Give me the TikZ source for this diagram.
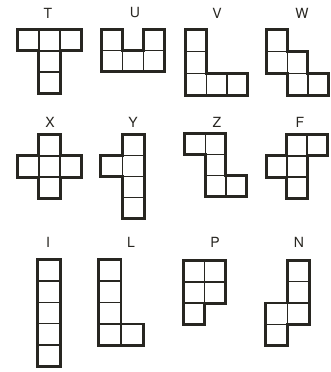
\documentclass[tikz,border=0pt]{standalone}
\usepackage{fontspec}
\setmainfont{TeX Gyre Heros}
\definecolor{ink}{RGB}{40,38,33}
\tikzset{
  cellline/.style={draw=ink, line width=1.4pt},
  outline/.style={draw=ink, line width=2.9pt, line join=miter},
  lbl/.style={text=ink, font=\fontsize{14}{14}\selectfont, inner sep=0pt, anchor=center}
}
\newcommand{\cellsq}[2]{\draw[cellline] (#1,#2) rectangle ++(1,1);}
\begin{document}
\begin{tikzpicture}[x=1pt,y=-1pt]
\useasboundingbox (0,0) rectangle (331,372);
\fill[white] (0,0) rectangle (331,372);
% labels
\node[lbl] (lT) at (48,13) {T};
\node[lbl] (lU) at (135,13) {U};
\node[lbl] (lV) at (217,13) {V};
\node[lbl] (lW) at (302,13) {W};
\node[lbl] (lX) at (50,122) {X};
\node[lbl] (lY) at (133,122) {Y};
\node[lbl] (lZ) at (217,122) {Z};
\node[lbl] (lF) at (300,122) {F};
\node[lbl] (lI) at (48,242) {I};
\node[lbl] (lL) at (131,242) {L};
\node[lbl] (lP) at (215,242) {P};
\node[lbl] (lN) at (299,242) {N};
% T
\begin{scope}[shift={(17.5pt,-29.5pt)}, x=21.3pt, y=-21.3pt]
\cellsq{0}{0}\cellsq{1}{0}\cellsq{2}{0}\cellsq{1}{1}\cellsq{1}{2}
\draw[outline] (0,0)--(3,0)--(3,1)--(2,1)--(2,3)--(1,3)--(1,1)--(0,1)--cycle;
\end{scope}
% U
\begin{scope}[shift={(101.5pt,-29.5pt)}, x=21pt, y=-21pt]
\cellsq{0}{0}\cellsq{2}{0}\cellsq{0}{1}\cellsq{1}{1}\cellsq{2}{1}
\draw[outline] (0,0)--(1,0)--(1,1)--(2,1)--(2,0)--(3,0)--(3,2)--(0,2)--cycle;
\end{scope}
% V
\begin{scope}[shift={(185.5pt,-29.5pt)}, x=20.7pt, y=-22pt]
\cellsq{0}{0}\cellsq{0}{1}\cellsq{0}{2}\cellsq{1}{2}\cellsq{2}{2}
\draw[outline] (0,0)--(1,0)--(1,2)--(3,2)--(3,3)--(0,3)--cycle;
\end{scope}
% W
\begin{scope}[shift={(266.5pt,-29.5pt)}, x=20.7pt, y=-22pt]
\cellsq{0}{0}\cellsq{0}{1}\cellsq{1}{1}\cellsq{1}{2}\cellsq{2}{2}
\draw[outline] (0,0)--(1,0)--(1,1)--(2,1)--(2,2)--(3,2)--(3,3)--(1,3)--(1,2)--(0,2)--cycle;
\end{scope}
% X
\begin{scope}[shift={(17.5pt,-134.5pt)}, x=21.3pt, y=-21.3pt]
\cellsq{1}{0}\cellsq{0}{1}\cellsq{1}{1}\cellsq{2}{1}\cellsq{1}{2}
\draw[outline] (1,0)--(2,0)--(2,1)--(3,1)--(3,2)--(2,2)--(2,3)--(1,3)--(1,2)--(0,2)--(0,1)--(1,1)--cycle;
\end{scope}
% Y
\begin{scope}[shift={(100.5pt,-134.5pt)}, x=22pt, y=-21pt]
\cellsq{1}{0}\cellsq{0}{1}\cellsq{1}{1}\cellsq{1}{2}\cellsq{1}{3}
\draw[outline] (1,0)--(2,0)--(2,4)--(1,4)--(1,2)--(0,2)--(0,1)--(1,1)--cycle;
\end{scope}
% Z
\begin{scope}[shift={(184.5pt,-133.5pt)}, x=20.7pt, y=-21pt]
\cellsq{0}{0}\cellsq{1}{0}\cellsq{1}{1}\cellsq{1}{2}\cellsq{2}{2}
\draw[outline] (0,0)--(2,0)--(2,2)--(3,2)--(3,3)--(1,3)--(1,1)--(0,1)--cycle;
\end{scope}
% F
\begin{scope}[shift={(266.5pt,-134.5pt)}, x=20.3pt, y=-21.3pt]
\cellsq{1}{0}\cellsq{2}{0}\cellsq{0}{1}\cellsq{1}{1}\cellsq{1}{2}
\draw[outline] (1,0)--(3,0)--(3,1)--(2,1)--(2,3)--(1,3)--(1,2)--(0,2)--(0,1)--(1,1)--cycle;
\end{scope}
% I
\begin{scope}[shift={(37.5pt,-259.5pt)}, x=23pt, y=-21.4pt]
\cellsq{0}{0}\cellsq{0}{1}\cellsq{0}{2}\cellsq{0}{3}\cellsq{0}{4}
\draw[outline] (0,0)--(1,0)--(1,5)--(0,5)--cycle;
\end{scope}
% L
\begin{scope}[shift={(98.5pt,-259.5pt)}, x=22.5pt, y=-21.5pt]
\cellsq{0}{0}\cellsq{0}{1}\cellsq{0}{2}\cellsq{0}{3}\cellsq{1}{3}
\draw[outline] (0,0)--(1,0)--(1,3)--(2,3)--(2,4)--(0,4)--cycle;
\end{scope}
% P
\begin{scope}[shift={(183.5pt,-260.5pt)}, x=21pt, y=-21.3pt]
\cellsq{0}{0}\cellsq{1}{0}\cellsq{0}{1}\cellsq{1}{1}\cellsq{0}{2}
\draw[outline] (0,0)--(2,0)--(2,2)--(1,2)--(1,3)--(0,3)--cycle;
\end{scope}
% N
\begin{scope}[shift={(265.5pt,-260.5pt)}, x=22pt, y=-21.25pt]
\cellsq{1}{0}\cellsq{1}{1}\cellsq{1}{2}\cellsq{0}{2}\cellsq{0}{3}
\draw[outline] (1,0)--(2,0)--(2,3)--(1,3)--(1,4)--(0,4)--(0,2)--(1,2)--cycle;
\end{scope}
\end{tikzpicture}
\end{document}
